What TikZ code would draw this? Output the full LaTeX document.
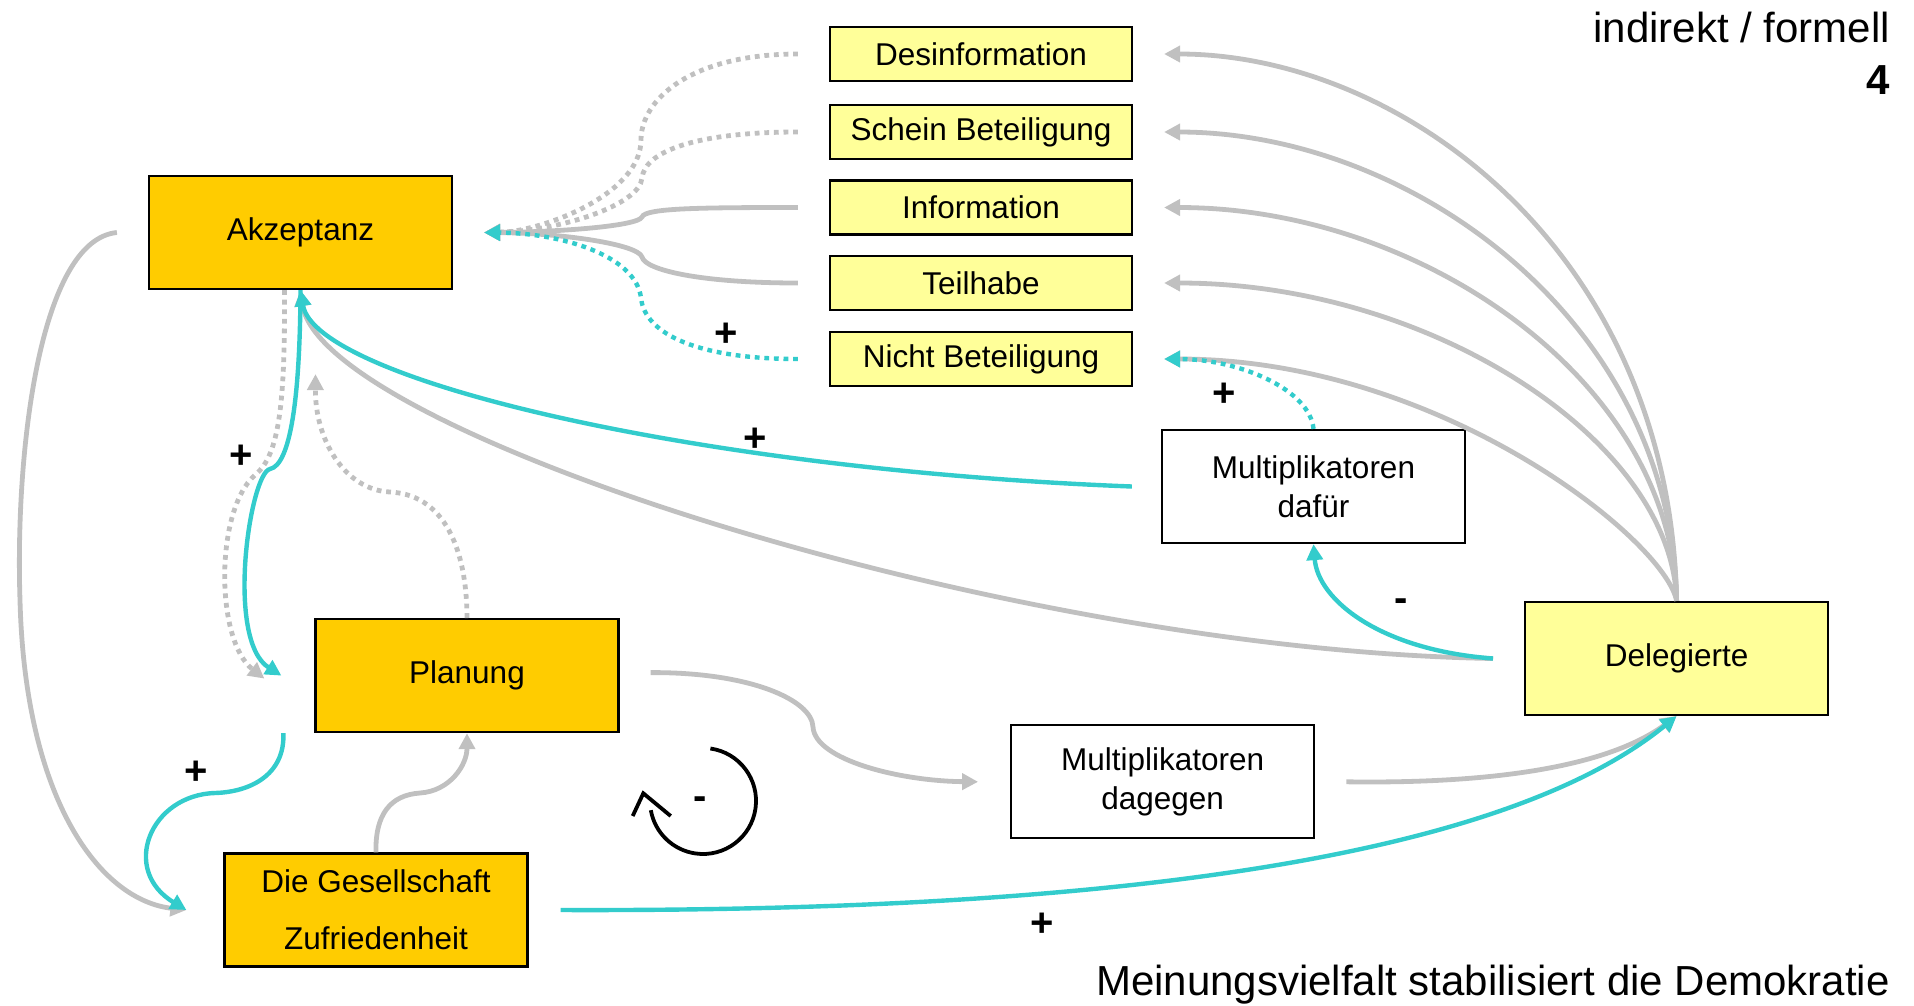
\documentclass[tikz,border=0pt]{standalone}
\usepackage{fontspec}
\setmainfont{Liberation Sans}
\usetikzlibrary{arrows.meta}
\definecolor{orng}{HTML}{FFCC00}
\definecolor{ylw}{HTML}{FFFF99}
\definecolor{gry}{HTML}{C0C0C0}
\definecolor{cyn}{HTML}{33CCCC}
\newcommand\boxfont{\fontsize{31.5}{39}\selectfont}
\newcommand\signfont{\fontsize{40}{40}\selectfont\bfseries}
\newcommand\titlefont{\fontsize{42}{48}\selectfont}
\begin{document}
\begin{tikzpicture}[x=1pt,y=-1pt,
  bigbox/.style={draw=black, line width=2.2pt, minimum width=303pt, minimum height=113pt, inner sep=0pt, align=center, font=\boxfont},
  smallbox/.style={draw=black, line width=2.2pt, fill=ylw, minimum width=302pt, minimum height=54pt, inner sep=0pt, font=\boxfont},
  orangebox/.style={bigbox, fill=orng},
  yellowbox/.style={bigbox, fill=ylw},
  whitebox/.style={bigbox, fill=white},
  link/.style={line width=4.8pt, -{Triangle[length=16pt,width=16pt]}},
  greylink/.style={link, draw=gry},
  cyanlink/.style={link, draw=cyn, line width=4.4pt},
  dotline/.style={dash pattern=on 4.8pt off 4.8pt},
  sign/.style={font=\signfont, inner sep=0pt},
  title/.style={font=\titlefont, inner sep=0pt, anchor=base east},
]
\useasboundingbox (0,0) rectangle (1914,1005);

% nodes
\node[orangebox] (akz) at (300.5,232.5) {Akzeptanz};
\node[smallbox] (desinf) at (981,54) {Desinformation};
\node[smallbox] (schein) at (981,132) {Schein Beteiligung};
\node[smallbox] (info) at (981,207.5) {Information};
\node[smallbox] (teil) at (981,283) {Teilhabe};
\node[smallbox] (nicht) at (981,359) {Nicht Beteiligung};
\node[whitebox] (mdf) at (1313.5,486.5) {Multiplikatoren\\dafür};
\node[yellowbox] (dl) at (1676.6,658.5) {Delegierte};
\node[orangebox] (pl) at (467,675.6) {Planung};
\node[whitebox] (mdg) at (1162.7,781.8) {Multiplikatoren\\dagegen};
\node[orangebox] (ges) at (376,910) {Die Gesellschaft\\[18pt]Zufriedenheit};

\node[title] (t1) at (1890,42) {indirekt / formell};
\node[title, font=\titlefont\bfseries] (t2) at (1890,94) {4};
\node[title] (t3) at (1890,995) {Meinungsvielfalt stabilisiert die Demokratie};

% helper coordinates
\coordinate (akzR) at ([xshift=31pt]akz.east);
\coordinate (desinfL) at ([xshift=-31pt]desinf.west);
\coordinate (scheinL) at ([xshift=-31pt]schein.west);
\coordinate (infoL) at ([xshift=-31pt]info.west);
\coordinate (teilL) at ([xshift=-31pt]teil.west);
\coordinate (nichtL) at ([xshift=-31pt]nicht.west);
\coordinate (desinfR) at ([xshift=31pt]desinf.east);
\coordinate (scheinR) at ([xshift=31pt]schein.east);
\coordinate (infoR) at ([xshift=31pt]info.east);
\coordinate (teilR) at ([xshift=31pt]teil.east);
\coordinate (nichtR) at ([xshift=31pt]nicht.east);
\coordinate (mdfL) at ([xshift=-29pt]mdf.west);
\coordinate (dlL) at ([xshift=-31pt]dl.west);
\coordinate (plL) at ([xshift=-33pt]pl.west);
\coordinate (plLd) at ([xshift=-50pt,yshift=-3pt]pl.west);
\coordinate (plR) at ([xshift=31pt,yshift=3pt]pl.east);
\coordinate (plSW) at ([xshift=-31pt]pl.south west);
\coordinate (akzSd) at ([xshift=-16pt]akz.south);
\coordinate (akzT) at ([xshift=15pt,yshift=-84pt]akz.south);
\coordinate (akzL) at ([xshift=-31pt]akz.west);
\coordinate (gesL) at ([xshift=-37pt]ges.west);
\coordinate (gesR) at ([xshift=32pt]ges.east);
\coordinate (mdgL) at ([xshift=-32pt]mdg.west);
\coordinate (mdgR) at ([xshift=31pt]mdg.east);

% grey solid connectors
\draw[greylink] (infoL) .. controls (700,207.5) and (645,208) .. (642,217) .. controls (638,226) and (560,232) .. (akzR);
\draw[greylink] (teilL) .. controls (700,283) and (645,270) .. (642,257) .. controls (638,244) and (560,233) .. (akzR);
\draw[greylink] (dl.north) .. controls (1670,250) and (1400,54) .. (desinfR);
\draw[greylink] (dl.north) .. controls (1672,320) and (1410,132) .. (scheinR);
\draw[greylink] (dl.north) .. controls (1672,380) and (1420,207.5) .. (infoR);
\draw[greylink] (dl.north) .. controls (1672,440) and (1430,283) .. (teilR);
\draw[greylink] (dl.north) .. controls (1665,540) and (1440,359) .. (nichtR);
\draw[greylink] (dlL) .. controls (1000,650) and (320,430) .. (akz.south);
\draw[greylink] (akzL) .. controls (40,240) and (15,450) .. (20,600) .. controls (25,800) and (100,900) .. (gesL);
\draw[greylink] (ges.north) .. controls (375,815) and (390,795) .. (420,793) .. controls (450,791) and (467,765) .. (pl.south);
\draw[greylink] (plR) .. controls (750,672) and (812,700) .. (813,727) .. controls (815,760) and (900,781) .. (mdgL);
\draw[greylink] (mdgR) .. controls (1500,784) and (1610,765) .. (dl.south);

% grey dotted connectors
\draw[greylink, dotline] (desinfL) .. controls (690,54) and (641,100) .. (641,140) .. controls (641,195) and (540,232) .. (akzR);
\draw[greylink, dotline] (scheinL) .. controls (700,132) and (645,150) .. (642,178) .. controls (640,205) and (560,231) .. (akzR);
\draw[greylink, dotline] (akzSd) .. controls (285,400) and (280,455) .. (255,475) .. controls (215,510) and (215,640) .. (plLd);
\draw[greylink, dotline] (pl.north) .. controls (467,560) and (450,495) .. (390,492) .. controls (345,490) and (315,440) .. (akzT);

% cyan connectors
\draw[cyanlink, dotline] (nichtL) .. controls (700,359) and (645,335) .. (641,298) .. controls (636,255) and (560,233) .. (akzR);
\draw[cyanlink, dotline] (mdf.north) .. controls (1310,390) and (1240,359) .. (nichtR);
\draw[cyanlink] (mdfL) .. controls (700,470) and (315,380) .. (akz.south);
\draw[cyanlink] (dlL) .. controls (1380,650) and (1318,600) .. (mdf.south);
\draw[cyanlink] (akz.south) .. controls (300,400) and (290,465) .. (270,469) .. controls (250,473) and (225,640) .. (plL);
\draw[cyanlink] (plSW) .. controls (285,775) and (250,792) .. (215,793) .. controls (150,795) and (120,870) .. (gesL);
\draw[cyanlink] (gesR) .. controls (1100,912) and (1500,860) .. (dl.south);

% loop symbol
\draw[line width=3.8pt, line cap=butt] (710.4,748.5) arc[start angle=82, end angle=-170, radius=53pt];
\draw[line width=3.8pt, line join=miter] (632.7,816) -- (643.3,793.3) -- (670.7,816);

% signs
\node[sign] (s1) at (725.7,335) {+};
\node[sign] (s2) at (1224.6,395) {+};
\node[sign] (s3) at (755.6,439.5) {+};
\node[sign] (s4) at (241,456.7) {+};
\node[sign] (s5) at (195.7,772.7) {+};
\node[sign] (s6) at (1042.3,925) {+};
\node[sign] (s7) at (1400.7,605) {-};
\node[sign] (s8) at (700,803) {-};
\end{tikzpicture}
\end{document}
